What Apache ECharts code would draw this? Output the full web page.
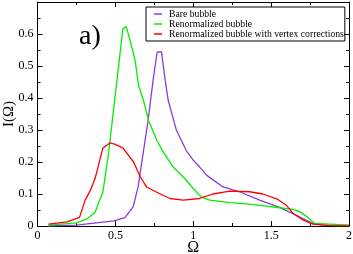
<!DOCTYPE html>
<html><head><meta charset="utf-8">
<script src="https://cdn.jsdelivr.net/npm/echarts@6/dist/echarts.min.js"></script>
<style>html,body{margin:0;padding:0;background:#fff}#c{width:353px;height:254px}</style>
</head><body><div id="c"></div>
<script>
const seriesNames = ['Bare bubble', 'Renormalized bubble', 'Renormalized bubble with vertex corrections'];
const bareX = [0.07,0.25,0.49,0.561,0.614,0.646,0.678,0.71,0.742,0.768,0.796,0.817,0.839,0.892,0.956,1.0,1.04,1.085,1.191,1.298,1.426,1.554,1.66,1.758,1.83,2.0];
const bareY = [0.0,0.003,0.016,0.026,0.06,0.122,0.226,0.33,0.455,0.543,0.545,0.465,0.393,0.299,0.235,0.206,0.185,0.159,0.122,0.107,0.081,0.058,0.034,0.01,0.003,0.002];
const renX = [0.07,0.25,0.317,0.37,0.42,0.456,0.51,0.548,0.57,0.595,0.627,0.649,0.68,0.713,0.766,0.8,0.87,0.913,0.956,1.0,1.05,1.106,1.234,1.341,1.47,1.554,1.64,1.683,1.736,1.779,1.875,2.0];
const renY = [0.003,0.01,0.022,0.043,0.107,0.226,0.455,0.616,0.623,0.579,0.517,0.439,0.393,0.33,0.268,0.237,0.185,0.164,0.143,0.117,0.091,0.081,0.073,0.069,0.062,0.057,0.052,0.045,0.027,0.008,0.006,0.003];
const vtxX = [0.07,0.19,0.27,0.306,0.34,0.37,0.40,0.42,0.467,0.499,0.548,0.617,0.66,0.70,0.76,0.85,0.935,1.04,1.127,1.234,1.362,1.447,1.544,1.597,1.64,1.704,1.768,1.875,2.0];
const vtxY = [0.006,0.013,0.027,0.081,0.112,0.149,0.206,0.244,0.26,0.255,0.244,0.2,0.154,0.122,0.107,0.086,0.081,0.086,0.1,0.109,0.107,0.1,0.083,0.065,0.04,0.019,0.006,0.001,0.0];
const xTicks = [0, 0.5, 1, 1.5, 2];
const yTicks = [0, 0.1, 0.2, 0.3, 0.4, 0.5, 0.6];

const zip = (a, b) => a.map((v, i) => [v, b[i]]);
const font = 'Liberation Serif';
const chart = echarts.init(document.getElementById('c'));
const axisLine = {show: true, onZero: false, lineStyle: {color: '#000', width: 1}};
const tick = {show: true, inside: true, length: 5, lineStyle: {color: '#000'}};
const minor = {show: true, splitNumber: 2, length: 3, lineStyle: {color: '#000'}};
const fmtX = v => xTicks.includes(v) ? String(v) : '';
const fmtY = v => yTicks.some(t => Math.abs(t - v) < 1e-9) ? String(+v.toFixed(1)) : '';
chart.setOption({
  animation: false,
  grid: {left: 37.5, right: 4, top: 2, bottom: 28, containLabel: false, outerBoundsMode: 'none'},
  legend: {
    orient: 'vertical', left: 146, top: 7, icon: 'rect', itemWidth: 8, itemHeight: 1.5, itemGap: 0,
    borderColor: '#000', borderWidth: 1, padding: [2, 1, 2, 8],
    textStyle: {fontFamily: font, fontSize: 9.7, color: '#000', lineHeight: 10, padding: [0, 0, 0, 2]},
    data: seriesNames
  },
  xAxis: [
    {type: 'value', min: 0, max: 2, interval: 0.5, position: 'bottom',
     axisLine, axisTick: tick, minorTick: minor, splitLine: {show: false},
     axisLabel: {formatter: fmtX, fontFamily: font, fontSize: 12, color: '#000', margin: 4},
     name: 'Ω', nameLocation: 'middle', nameGap: 14, nameMoveOverlap: false,
     nameTextStyle: {fontFamily: font, fontSize: 16, color: '#000'}},
    {type: 'value', min: 0, max: 2, interval: 0.5, position: 'top',
     axisLine, axisTick: tick, minorTick: minor, splitLine: {show: false},
     axisLabel: {show: false}}
  ],
  yAxis: [
    {type: 'value', min: 0, max: 0.7, interval: 0.1, position: 'left',
     axisLine, axisTick: tick, minorTick: minor, splitLine: {show: false},
     axisLabel: {formatter: fmtY, fontFamily: font, fontSize: 12, color: '#000', margin: 4},
     name: 'I(Ω)', nameLocation: 'middle', nameGap: 20.5, nameRotate: 90, nameMoveOverlap: false,
     nameTextStyle: {fontFamily: font, fontSize: 15, color: '#000'}},
    {type: 'value', min: 0, max: 0.7, interval: 0.1, position: 'right',
     axisLine, axisTick: tick, minorTick: minor, splitLine: {show: false},
     axisLabel: {show: false}}
  ],
  graphic: [{type: 'text', left: 79, top: 23, style: {text: 'a)', font: '28px "Liberation Serif"', fill: '#000'}}],
  series: [
    {name: seriesNames[0], type: 'line', symbol: 'none', data: zip(bareX, bareY), lineStyle: {color: '#8a3cd8', width: 1.3}, itemStyle: {color: '#8a3cd8'}},
    {name: seriesNames[1], type: 'line', symbol: 'none', data: zip(renX, renY), lineStyle: {color: '#00ee00', width: 1.3}, itemStyle: {color: '#00ee00'}},
    {name: seriesNames[2], type: 'line', symbol: 'none', data: zip(vtxX, vtxY), lineStyle: {color: '#ff0000', width: 1.3}, itemStyle: {color: '#ff0000'}}
  ]
});
</script></body></html>
